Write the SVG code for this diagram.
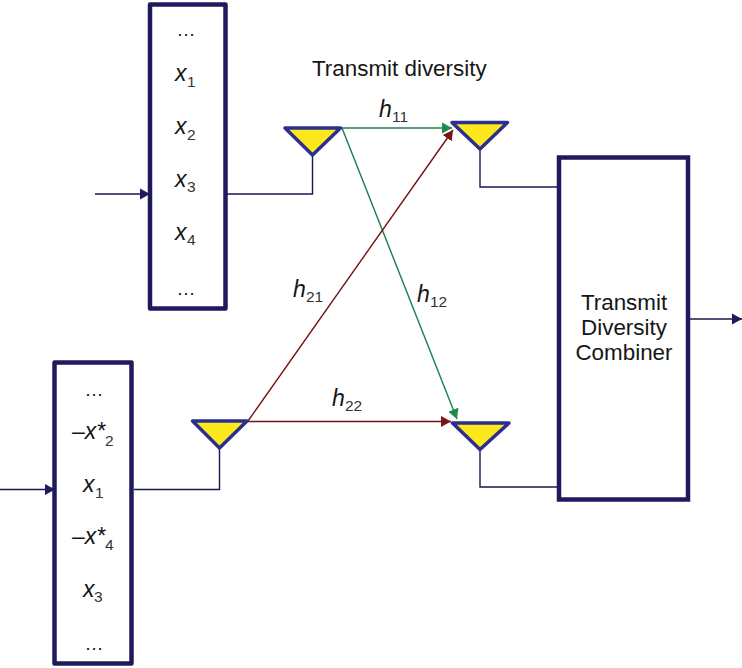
<svg xmlns="http://www.w3.org/2000/svg" width="742" height="668" viewBox="0 0 742 668">
<style>
.box{fill:#fff;stroke:#1f1a5c;stroke-width:4.5;stroke-linejoin:round}
.ant{fill:#fbe91e;stroke:#2b2f8f;stroke-width:3.5;stroke-linejoin:round}
.w{fill:none;stroke:#1a1650;stroke-width:1.4}
.g{fill:none;stroke:#1a7f48;stroke-width:1.4}
.r{fill:none;stroke:#741012;stroke-width:1.4}
text{font-family:"Liberation Sans",Arial,sans-serif;font-size:22.400px;fill:#161616}
.m{text-anchor:middle}
.d{font-size:19px}
.i{font-style:italic;font-size:23px}
.s{font-size:15.500px;fill:#333}
</style>
<defs>
<marker id="aw" markerUnits="userSpaceOnUse" markerWidth="12" markerHeight="12" refX="10" refY="6" orient="auto"><path d="M0 0.500L10 6L0 11.500Z" fill="#1f1a5c"/></marker>
<marker id="ag" markerUnits="userSpaceOnUse" markerWidth="12" markerHeight="12" refX="10" refY="6" orient="auto"><path d="M0 0.500L10 6L0 11.500Z" fill="#1f8a50"/></marker>
<marker id="ar" markerUnits="userSpaceOnUse" markerWidth="12" markerHeight="12" refX="10" refY="6" orient="auto"><path d="M0 0.500L10 6L0 11.500Z" fill="#7e1416"/></marker>
</defs>
<rect width="742" height="668" fill="#fff"/>
<g id="connectors">
<path class="w" d="M95 194H150" marker-end="url(#aw)"/>
<path class="w" d="M0 489.500H55" marker-end="url(#aw)"/>
<path class="w" d="M227 194H312.500V155"/>
<path class="w" d="M134 489.500H219.500V448"/>
<path class="w" d="M480 150V187H557"/>
<path class="w" d="M480 450V487H557"/>
<path class="w" d="M690 319H742" marker-end="url(#aw)"/>
<path class="g" d="M342 128H452" marker-end="url(#ag)"/>
<path class="g" d="M342 128L457 419" marker-end="url(#ag)"/>
<path class="r" d="M248 421L453 130" marker-end="url(#ar)"/>
<path class="r" d="M248 421.500H451" marker-end="url(#ar)"/>
</g>
<g id="block-top">
<rect class="box" x="150" y="4.500" width="75.500" height="304"/>
<text class="m d" x="186" y="36">…</text>
<text class="i" x="175" y="81">x</text><text class="s" x="187" y="87">1</text>
<text class="i" x="175" y="134">x</text><text class="s" x="187" y="140">2</text>
<text class="i" x="175" y="187">x</text><text class="s" x="187" y="192">3</text>
<text class="i" x="175" y="240">x</text><text class="s" x="187" y="245">4</text>
<text class="m d" x="186" y="295">…</text>
</g>
<g id="block-bottom">
<rect class="box" x="54.500" y="362.500" width="77" height="301"/>
<text class="m d" x="94" y="396">…</text>
<text class="i" x="72" y="439">–x*</text><text class="s" x="105" y="446">2</text>
<text class="i" x="83" y="492">x</text><text class="s" x="95" y="498">1</text>
<text class="i" x="72" y="544">–x*</text><text class="s" x="105" y="550">4</text>
<text class="i" x="83" y="597">x</text><text class="s" x="94" y="602">3</text>
<text class="m d" x="94" y="650">…</text>
</g>
<g id="combiner">
<rect class="box" style="stroke-linejoin:miter" x="559" y="157.500" width="129" height="342"/>
<text class="m" x="624" y="310">Transmit</text>
<text class="m" x="624" y="335">Diversity</text>
<text class="m" x="624" y="360">Combiner</text>
</g>
<g id="antenna-tx1"><path class="ant" d="M285 128H340.500L312.500 155Z"/></g>
<g id="antenna-rx1"><path class="ant" d="M452 122.500H507.500L480 149Z"/></g>
<g id="antenna-tx2"><path class="ant" d="M192.500 421H247L219.500 448Z"/></g>
<g id="antenna-rx2"><path class="ant" d="M452.500 423H509L480 449.500Z"/></g>
<g id="labels">
<text x="312" y="76">Transmit diversity</text>
<text class="i" x="379" y="117">h</text><text class="s" x="392" y="122">11</text>
<text class="i" x="293" y="297">h</text><text class="s" x="306" y="302">21</text>
<text class="i" x="417" y="302">h</text><text class="s" x="430" y="307">12</text>
<text class="i" x="332" y="406">h</text><text class="s" x="345" y="411">22</text>
</g>
</svg>
